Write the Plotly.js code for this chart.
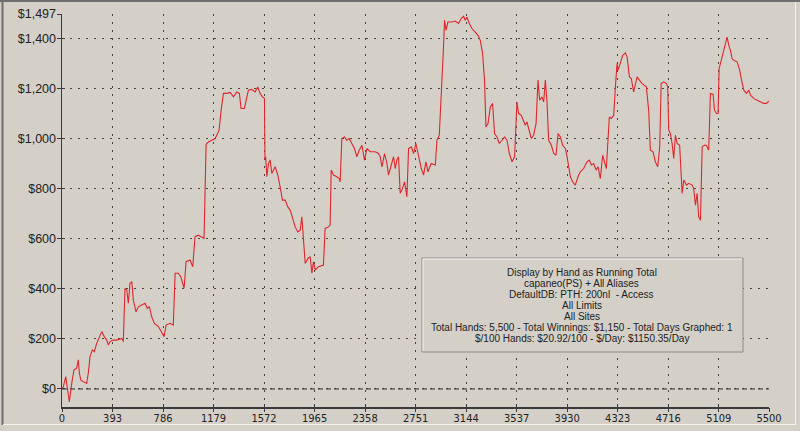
<!DOCTYPE html>
<html>
<head>
<meta charset="utf-8">
<script src="https://cdn.plot.ly/plotly-3.0.1.min.js"></script>
<style>
html,body{margin:0;padding:0;background:#d4d0c8;}
#chart{width:800px;height:431px;}
</style>
</head>
<body>
<div id="chart"></div>
<script>
// ---- data (hand number, running total in $) ----
const hands = [0,10,29,57,76,93,114,127,135,146,166,192,205,218,236,251,270,290,309,329,348,360,374,395,426,465,477,490,504,516,529,543,555,576,594,620,646,664,680,698,719,750,776,794,810,841,866,880,905,924,950,965,996,1017,1035,1061,1105,1121,1139,1165,1191,1204,1222,1238,1256,1282,1308,1334,1360,1380,1393,1419,1438,1450,1477,1502,1523,1541,1559,1575,1579,1584,1594,1606,1619,1632,1658,1679,1697,1715,1736,1757,1775,1793,1814,1835,1853,1866,1878,1892,1913,1931,1944,1956,1970,1995,2034,2047,2073,2086,2094,2112,2138,2156,2164,2177,2198,2216,2234,2255,2275,2294,2312,2333,2353,2372,2398,2437,2462,2475,2489,2509,2528,2540,2561,2579,2592,2605,2618,2631,2644,2665,2683,2696,2717,2735,2753,2774,2795,2813,2831,2847,2872,2904,2917,2935,2950,2960,2968,2976,2987,3002,3034,3059,3085,3106,3124,3137,3150,3168,3189,3215,3236,3254,3272,3287,3298,3314,3332,3350,3365,3384,3402,3423,3443,3462,3480,3501,3521,3539,3552,3573,3591,3604,3617,3635,3651,3669,3688,3703,3716,3734,3747,3760,3773,3786,3807,3825,3843,3859,3877,3895,3916,3929,3941,3955,3972,3993,4014,4032,4058,4084,4102,4118,4136,4155,4170,4188,4206,4222,4235,4245,4258,4274,4292,4305,4318,4326,4344,4362,4383,4396,4414,4429,4447,4460,4474,4492,4513,4546,4564,4577,4598,4616,4634,4650,4661,4681,4702,4712,4720,4733,4746,4759,4772,4785,4805,4824,4837,4858,4875,4902,4914,4928,4941,4953,4967,4980,4998,5013,5031,5044,5065,5076,5091,5104,5112,5122,5135,5148,5161,5174,5187,5200,5213,5226,5252,5272,5286,5304,5325,5343,5356,5381,5408,5434,5459,5480,5500];
const winnings = [0,9,49,-51,23,76,83,116,64,36,29,23,64,129,156,149,182,209,229,209,195,176,189,195,195,202,189,402,395,342,422,428,355,308,328,335,342,322,328,288,262,249,222,209,255,262,255,462,462,448,402,508,515,488,608,614,601,977,986,993,1000,1013,1033,1113,1180,1180,1184,1166,1186,1180,1120,1120,1173,1193,1196,1186,1206,1180,1166,1160,914,927,847,900,914,860,887,854,807,754,754,727,714,687,647,627,634,687,608,501,521,528,462,508,475,488,495,641,647,654,874,854,847,840,827,1000,1006,993,1000,980,960,927,953,973,914,960,947,947,940,927,887,940,900,854,900,927,880,914,927,781,794,827,767,960,967,940,980,927,880,854,907,867,900,894,993,1013,1153,1246,1365,1472,1432,1465,1465,1469,1459,1479,1488,1472,1485,1459,1439,1425,1412,1392,1339,1233,1046,1060,1126,1140,1020,1006,980,993,1006,993,940,907,927,1146,1100,1093,1073,1053,1066,1033,1000,1013,1060,1233,1153,1166,1146,1233,1146,993,973,940,933,1020,1006,973,960,927,887,847,827,814,847,867,880,907,914,894,900,874,887,840,933,907,880,973,1086,1080,1093,1206,1299,1273,1306,1332,1342,1326,1246,1239,1186,1219,1246,1233,1219,1206,1113,953,947,907,887,967,1219,1226,1219,1206,1033,1020,980,920,1013,980,973,781,834,814,821,814,801,734,781,687,674,967,973,973,953,1180,1177,1113,1100,1100,1279,1299,1326,1345,1379,1405,1372,1352,1319,1312,1306,1273,1233,1193,1180,1193,1173,1160,1153,1146,1140,1140,1150];

const xTickVals = [0,393,786,1179,1572,1965,2358,2751,3144,3537,3930,4323,4716,5109,5500];
const xTickText = ['0','393','786','1179','1572','1965','2358','2751','3144','3537','3930','4323','4716','5109','5500'];
const yTickVals = [0,200,400,600,800,1000,1200,1400,1497];
const yTickText = ['$0','$200','$400','$600','$800','$1,000','$1,200','$1,400','$1,497'];
const yMin = -72, yMax = 1497, xMin = 0, xMax = 5500;

const infoLines = [
  'Display by Hand as Running Total',
  'capaneo(PS) + All Aliases',
  'DefaultDB: PTH: 200nl  - Access',
  'All Limits',
  'All Sites',
  'Total Hands: 5,500 - Total Winnings: $1,150 - Total Days Graphed: 1',
  '$/100 Hands: $20.92/100 - $/Day: $1150.35/Day'
];

// ---- layout geometry (pixels) ----
const W = 800, H = 431;
const M = {l: 62, r: 31, t: 14, b: 24};
const PL = M.l, PR = W - M.r, PT = M.t, PB = H - M.b;
const fx = px => (px - PL) / (PR - PL);
const fy = py => (PB - py) / (PB - PT);

const BG = '#d4d0c8';
const TXT = '#222222';
const AX = '#3a3a3a';

const shapes = [
  // dashed $0 line
  {type:'line', xref:'x', yref:'y', x0:xMin, x1:xMax, y0:0, y1:0,
   line:{color:'#2a2a2a', width:1, dash:'5px,3px'}, layer:'below'},
  // info box
  {type:'rect', xref:'paper', yref:'paper', x0:fx(422), x1:fx(743), y0:fy(352), y1:fy(258),
   fillcolor:BG, line:{color:'#8c8c8c', width:1}, layer:'above'},
  {type:'line', xref:'paper', yref:'paper', x0:fx(423), x1:fx(742), y0:fy(259), y1:fy(259),
   line:{color:'#f2f0ec', width:1}},
  {type:'line', xref:'paper', yref:'paper', x0:fx(423), x1:fx(423), y0:fy(259), y1:fy(351),
   line:{color:'#f2f0ec', width:1}},
  // window frame
  {type:'line', xref:'paper', yref:'paper', x0:fx(0), x1:fx(800), y0:fy(1), y1:fy(1),
   line:{color:'#6e6e6e', width:2}},
  {type:'line', xref:'paper', yref:'paper', x0:fx(2.5), x1:fx(2.5), y0:fy(0), y1:fy(425),
   line:{color:'#6e6e6e', width:2}},
  {type:'line', xref:'paper', yref:'paper', x0:fx(3), x1:fx(796), y0:fy(424.5), y1:fy(424.5),
   line:{color:'#f4f2ee', width:1}},
  {type:'line', xref:'paper', yref:'paper', x0:fx(795.5), x1:fx(795.5), y0:fy(2), y1:fy(424.5),
   line:{color:'#f4f2ee', width:1}}
];

const lineH = 11, firstY = 272.5, centerX = 581.5;
const annotations = infoLines.map((t, i) => ({
  xref:'paper', yref:'paper', x:fx(centerX), y:fy(firstY + i * lineH),
  xanchor:'center', yanchor:'middle', showarrow:false, text:t,
  font:{family:'Liberation Sans, Arial, sans-serif', size:10, color:TXT}
}));

const traces = [
  {x:hands, y:winnings, type:'scatter', mode:'lines',
   line:{color:'#e0262a', width:1.1}, hoverinfo:'skip', showlegend:false},
  {x:[], y:[], xaxis:'x2', yaxis:'y2', type:'scatter', mode:'lines', showlegend:false},
  {x:[], y:[], xaxis:'x3', yaxis:'y3', type:'scatter', mode:'lines', showlegend:false}
];

const tickAxis = (dir, vals, range, anchor, side) => ({
  overlaying: dir, anchor: anchor, range: range, tickvals: vals,
  ticks: side, ticklen: side === 'inside' ? 3 : 4, tickcolor: AX, tickwidth: 1,
  showticklabels:false, showgrid:false, zeroline:false, showline:false, fixedrange:true
});

const layout = {
  width:W, height:H,
  margin:M,
  paper_bgcolor:BG, plot_bgcolor:BG,
  showlegend:false,
  xaxis:{
    range:[xMin, xMax], tickvals:xTickVals, ticktext:xTickText,
    showgrid:true, gridcolor:'#444444', gridwidth:1, griddash:'2px,6px',
    zeroline:false, showline:true, linecolor:AX, linewidth:1.5,
    ticks:'',
    tickfont:{family:'Liberation Sans Narrow, DejaVu Sans Condensed, Arial, sans-serif', size:11, color:TXT},
    fixedrange:true
  },
  yaxis:{
    range:[yMin, yMax], tickvals:yTickVals, ticktext:yTickText,
    showgrid:true, gridcolor:'#444444', gridwidth:1, griddash:'2px,6px',
    zeroline:false, showline:true, linecolor:AX, linewidth:1.5,
    ticks:'outside', ticklen:2, tickcolor:'rgba(0,0,0,0)',
    tickfont:{family:'Liberation Sans, Arial, sans-serif', size:12.5, color:TXT},
    fixedrange:true
  },
  xaxis2: tickAxis('x', xTickVals, [xMin, xMax], 'y2', 'inside'),
  yaxis2: tickAxis('y', yTickVals, [yMin, yMax], 'x2', 'inside'),
  xaxis3: tickAxis('x', xTickVals, [xMin, xMax], 'y3', 'outside'),
  yaxis3: tickAxis('y', yTickVals, [yMin, yMax], 'x3', 'outside'),
  shapes:shapes,
  annotations:annotations
};

Plotly.newPlot('chart', traces, layout, {staticPlot:true, displayModeBar:false});
</script>
</body>
</html>
